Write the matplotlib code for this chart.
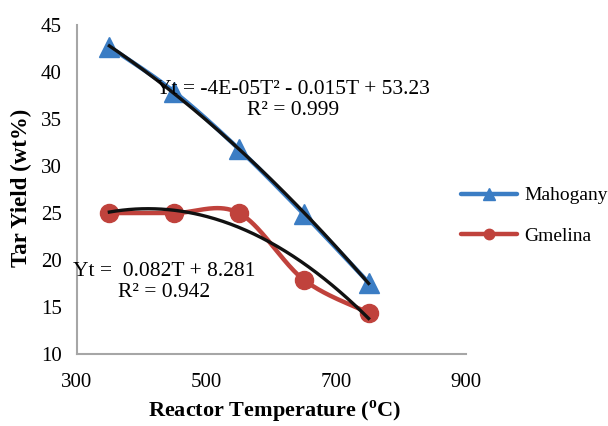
import numpy as np
import matplotlib
matplotlib.use("Agg")
import matplotlib.pyplot as plt

plt.rcParams['font.family'] = ['Liberation Serif', 'DejaVu Serif']
plt.rcParams['mathtext.fontset'] = 'custom'
plt.rcParams['mathtext.rm'] = 'Liberation Serif'
plt.rcParams['mathtext.bf'] = 'Liberation Serif:bold'

temps = [350, 450, 550, 650, 750]
mahogany = [42.7, 37.9, 31.8, 24.9, 17.6]
gmelina = [25.0, 25.0, 25.0, 17.9, 14.4]
x_ticks = [300, 500, 700, 900]
y_ticks = [10, 15, 20, 25, 30, 35, 40, 45]
eq_mahogany = "Yt = -4E-05T² - 0.015T + 53.23\nR² = 0.999"
eq_gmelina = "Yt =  0.082T + 8.281\nR² = 0.942"

BLUE = '#3B7DC4'
RED = '#C0423C'


def catmull_rom(x, y, n=40):
    x = np.asarray(x, float); y = np.asarray(y, float)
    px = np.concatenate([[x[0]], x, [x[-1]]])
    py = np.concatenate([[y[0]], y, [y[-1]]])
    xs, ys = [], []
    t = np.linspace(0, 1, n)
    for i in range(1, len(px) - 2):
        p0, p1, p2, p3 = (np.array([px[j], py[j]]) for j in (i - 1, i, i + 1, i + 2))
        c1 = p1 + (p2 - p0) / 6
        c2 = p2 - (p3 - p1) / 6
        pts = ((1 - t)[:, None] ** 3 * p1 + 3 * ((1 - t) ** 2 * t)[:, None] * c1
               + 3 * ((1 - t) * t ** 2)[:, None] * c2 + (t ** 3)[:, None] * p2)
        xs.extend(pts[:, 0]); ys.extend(pts[:, 1])
    return np.array(xs), np.array(ys)


fig = plt.figure(figsize=(6.08, 4.26), dpi=100)
ax = fig.add_axes([0.1266, 0.169, 0.6395, 0.772])

for data, color, marker, ms, lms, label in [
        (mahogany, BLUE, '^', 15, 8, 'Mahogany'),
        (gmelina, RED, 'o', 13, 7.5, 'Gmelina')]:
    sx, sy = catmull_rom(temps, data)
    ax.plot(sx, sy, color=color, lw=3.2, zorder=2, solid_capstyle='round')
    ax.plot(temps, data, linestyle='none', marker=marker, ms=ms, color=color, zorder=3)
    ax.plot([], [], color=color, lw=3.2, marker=marker, ms=lms, label=label,
            solid_capstyle='round')
    coef = np.polyfit(temps, data, 2)
    tx = np.linspace(temps[0], temps[-1], 200)
    ax.plot(tx, np.polyval(coef, tx), color='#111111', lw=2.4, zorder=4)

ax.set_xlim(300, 900)
ax.set_ylim(10, 45)
ax.set_xticks(x_ticks)
ax.set_yticks(y_ticks)
ax.tick_params(length=0, labelsize=15)
ax.tick_params(axis='x', pad=14)
ax.tick_params(axis='y', pad=11)
for s in ['top', 'right']:
    ax.spines[s].set_visible(False)
for s in ['left', 'bottom']:
    ax.spines[s].set_color('#A6A6A6')
    ax.spines[s].set_linewidth(1.5)

ax.text(634, 37.0, eq_mahogany, ha='center', va='center', fontsize=15.5, linespacing=1.15, zorder=5)
ax.text(434, 17.7, eq_gmelina, ha='center', va='center', fontsize=15.5, linespacing=1.15, zorder=5)

fig.text(0.452, 0.033, r"Reactor Temperature ($^{\mathbf{o}}$C)", ha='center', va='center',
         fontsize=16, fontweight='bold')
fig.text(0.036, 0.56, "Tar Yield (wt%)", ha='center', va='center', rotation=90,
         fontsize=16.5, fontweight='bold')

fig.legend(loc='center left', bbox_to_anchor=(0.758, 0.493), frameon=False, fontsize=14,
           handlelength=2.9, handletextpad=0.36, labelspacing=1.2, borderpad=0,
           borderaxespad=0)

fig.savefig('out.png', dpi=100)
